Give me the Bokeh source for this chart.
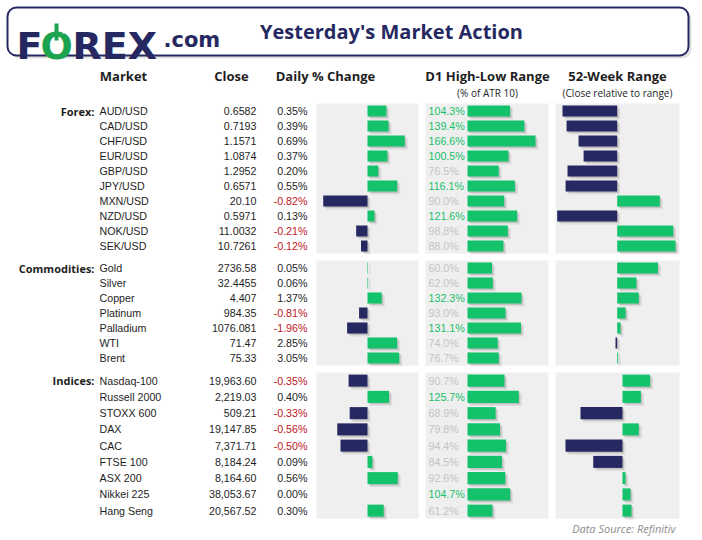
from bokeh.plotting import figure
from bokeh.models import Range1d
from bokeh.core.properties import value
from bokeh.embed import file_html
from bokeh.resources import INLINE

# ---------------- data ----------------
forex_names = ["AUD/USD", "CAD/USD", "CHF/USD", "EUR/USD", "GBP/USD", "JPY/USD",
               "MXN/USD", "NZD/USD", "NOK/USD", "SEK/USD"]
forex_close = ["0.6582", "0.7193", "1.1571", "1.0874", "1.2952", "0.6571",
               "20.10", "0.5971", "11.0032", "10.7261"]
forex_chg = [0.35, 0.39, 0.69, 0.37, 0.20, 0.55, -0.82, 0.13, -0.21, -0.12]
forex_d1 = [104.3, 139.4, 166.6, 100.5, 76.5, 116.1, 90.0, 121.6, 98.8, 88.0]
forex_52w = [-45.6, -42.2, -32.2, -28.0, -41.4, -43.0, 35.5, -50.0, 46.7, 48.6]

comm_names = ["Gold", "Silver", "Copper", "Platinum", "Palladium", "WTI", "Brent"]
comm_close = ["2736.58", "32.4455", "4.407", "984.35", "1076.081", "71.47", "75.33"]
comm_chg = [0.05, 0.06, 1.37, -0.81, -1.96, 2.85, 3.05]
comm_d1 = [60.0, 62.0, 132.3, 93.0, 131.1, 74.0, 76.7]
comm_52w = [34.0, 16.0, 18.0, 7.0, 2.8, -1.4, 0.8]

idx_names = ["Nasdaq-100", "Russell 2000", "STOXX 600", "DAX", "CAC", "FTSE 100",
             "ASX 200", "Nikkei 225", "Hang Seng"]
idx_close = ["19,963.60", "2,219.03", "509.21", "19,147.85", "7,371.71", "8,184.24",
             "8,164.60", "38,053.67", "20,567.52"]
idx_chg = [-0.35, 0.40, -0.33, -0.56, -0.50, 0.09, 0.56, 0.00, 0.30]
idx_d1 = [90.7, 125.7, 68.9, 79.8, 94.4, 84.5, 92.6, 104.7, 61.2]
idx_52w = [23.0, 15.3, -35.0, 13.6, -47.5, -24.4, 2.5, 6.7, 7.5]

section_labels = ["Forex:", "Commodities:", "Indices:"]
column_headers = ["Market", "Close", "Daily % Change", "D1 High-Low Range", "52-Week Range"]
sub_headers = ["(% of ATR 10)", "(Close relative to range)"]
title = "Yesterday's Market Action"
source_note = "Data Source: Refinitiv"

# ---------------- style ----------------
NAVY = "#262961"
GREEN = "#13c26b"
PANEL = "#efefef"
TXT = "#1e1e1e"
RED = "#c0161e"
GREY_TXT = "#c4c4c4"
GREEN_TXT = "#17bf6a"
TABLE_FONT = value("Liberation Sans")
HEAD_FONT = value("Open Sans")

W, H = 700, 538
X0, Y0 = 0, 0
p = figure(width=W, height=H, x_range=Range1d(X0, X0 + W), y_range=Range1d(Y0 + H, Y0),
           output_backend="svg", toolbar_location=None, min_border=0,
           x_axis_location=None, y_axis_location=None)
p.grid.visible = False
p.outline_line_color = None
p.background_fill_color = "white"
p.border_fill_color = "white"

# ranges for the bar panels (zero pixel, pixels per unit)
extra = {}
def make_range(name, zero_px, k):
    for suffix, off in (("", 0.0), ("_s1", 1.5), ("_s2", 3.0)):
        extra[name + suffix] = Range1d((X0 - zero_px - off) / k, (X0 + W - zero_px - off) / k)

# ---------------- header box ----------------
p.quad(left=[10], right=[691], top=[10], bottom=[58], fill_color="#000000", fill_alpha=0.12,
       line_color=None, border_radius=9)
p.quad(left=[7], right=[688], top=[7], bottom=[55], fill_color="white",
       line_color=NAVY, line_width=2, border_radius=9)

logo_font = value("DejaVu Sans")
p.text(x=[16], y=[45], text=["F"], text_font=logo_font, text_font_style="bold",
       text_font_size="38px", text_color=NAVY, text_baseline="alphabetic")
p.text(x=[40], y=[45], text=["O"], text_font=logo_font, text_font_style="bold",
       text_font_size="38px", text_color="#1ba34f", text_baseline="alphabetic")
p.segment(x0=[56], y0=[23], x1=[56], y1=[40], line_color="#1ba34f", line_width=4)
p.segment(x0=[62], y0=[31.5], x1=[72], y1=[31.5], line_color="white", line_width=3)
p.text(x=[72], y=[45], text=["REX"], text_font=logo_font, text_font_style="bold",
       text_font_size="38px", text_color=NAVY, text_baseline="alphabetic")
p.text(x=[163], y=[39], text=[".com"], text_font=logo_font, text_font_style="bold",
       text_font_size="21px", text_color=NAVY, text_baseline="alphabetic")
p.text(x=[391], y=[31], text=[title], text_font=HEAD_FONT, text_font_style="bold",
       text_font_size="20px", text_color=NAVY, text_align="center", text_baseline="middle")

# ---------------- column headers ----------------
hx = [123, 231, 325, 487, 617]
p.text(x=hx, y=[75] * 5, text=column_headers, text_font=HEAD_FONT, text_font_style="bold",
       text_font_size="13px", text_color=TXT, text_align="center", text_baseline="middle")
p.text(x=[487, 617], y=[92, 92], text=sub_headers, text_font=HEAD_FONT,
       text_font_size="10px", text_color=TXT, text_align="center", text_baseline="middle")

# ---------------- sections ----------------
sections = [
    dict(label=section_labels[0], names=forex_names, close=forex_close, chg=forex_chg,
         d1=forex_d1, w52=forex_52w, top=103, step=15.0, chg_k=54.0, w_zero=616.7),
    dict(label=section_labels[1], names=comm_names, close=comm_close, chg=comm_chg,
         d1=comm_d1, w52=comm_52w, top=260, step=15.0, chg_k=10.4, w_zero=616.7),
    dict(label=section_labels[2], names=idx_names, close=idx_close, chg=idx_chg,
         d1=idx_d1, w52=idx_52w, top=372, step=16.25, chg_k=54.0, w_zero=622.0),
]

panels = [(316, 418), (425, 548), (555, 679)]

for si, s in enumerate(sections):
    n = len(s["names"])
    bottom = s["top"] + n * s["step"]
    ys = [s["top"] + s["step"] * (i + 0.5) for i in range(n)]
    bh = s["step"] * 0.74

    for (l, r) in panels:
        p.quad(left=[l], right=[r], top=[s["top"]], bottom=[bottom],
               fill_color=PANEL, line_color=None)

    rc = f"chg{si}"
    rd = f"d1{si}"
    rw = f"w{si}"
    make_range(rc, 367.0, s["chg_k"])
    make_range(rd, 467.0, 0.408)
    make_range(rw, s["w_zero"], 1.2)

    for name, vals in ((rc, s["chg"]), (rd, s["d1"]), (rw, s["w52"])):
        cols = [GREEN if v >= 0 else NAVY for v in vals]
        for suffix, dy, a in (("_s2", 3.0, 0.07), ("_s1", 1.5, 0.13)):
            p.hbar(y=[y + dy for y in ys], left=0, right=vals, height=bh,
                   fill_color="#000000", fill_alpha=a, line_color=None,
                   x_range_name=name + suffix)
        p.hbar(y=ys, left=0, right=vals, height=bh, fill_color=cols, line_color=None,
               x_range_name=name)

    # texts
    p.text(x=[94], y=[ys[0]], text=[s["label"]], text_font=HEAD_FONT, text_font_style="bold",
           text_font_size="11px", text_color=TXT, text_align="right", text_baseline="middle")
    p.text(x=[99] * n, y=ys, text=s["names"], text_font=TABLE_FONT, text_font_size="10.7px",
           text_color=TXT, text_align="left", text_baseline="middle")
    p.text(x=[256] * n, y=ys, text=s["close"], text_font=TABLE_FONT, text_font_size="10.7px",
           text_color=TXT, text_align="right", text_baseline="middle")
    chg_txt = [f"{v:.2f}%" for v in s["chg"]]
    chg_col = [RED if v < 0 else TXT for v in s["chg"]]
    p.text(x=[307] * n, y=ys, text=chg_txt, text_font=TABLE_FONT, text_font_size="10.7px",
           text_color=chg_col, text_align="right", text_baseline="middle")
    d1_txt = [f"{v:.1f}%" for v in s["d1"]]
    d1_col = [GREEN_TXT if v >= 100 else GREY_TXT for v in s["d1"]]
    p.text(x=[428] * n, y=ys, text=d1_txt, text_font=TABLE_FONT, text_font_size="10.7px",
           text_color=d1_col, text_align="left", text_baseline="middle")

p.extra_x_ranges = extra

p.text(x=[675], y=[528], text=[source_note], text_font=HEAD_FONT, text_font_style="italic",
       text_font_size="11px", text_color="#8c8c8c", text_align="right", text_baseline="middle")

open("out.html", "w").write(file_html(p, INLINE))
